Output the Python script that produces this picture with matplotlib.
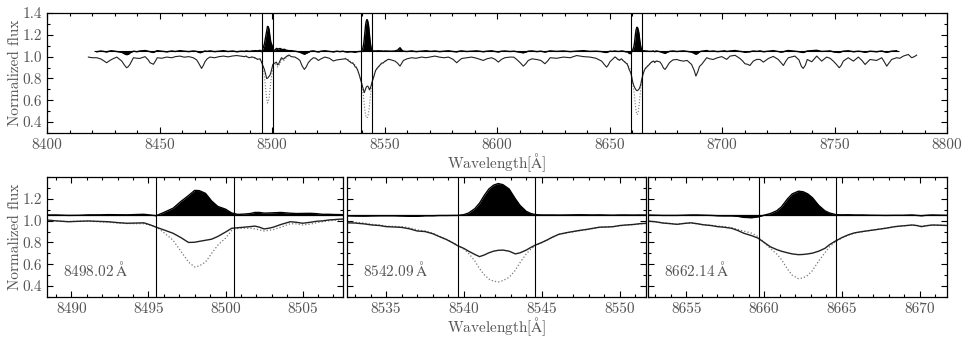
import numpy as np
import matplotlib
matplotlib.use('Agg')
import matplotlib.pyplot as plt
from matplotlib.ticker import MultipleLocator, FixedLocator, FormatStrFormatter

# Ca II triplet line centres and window half width (A)
line_centres = [8498.02, 8542.09, 8662.14]
window_half = 2.5
res_offset = 1.05
res_range = (8421.0, 8778.8)

# observed spectrum outside the three zoom windows (top panel)
wave_top = [8418.4, 8420.0, 8422.1, 8424.0, 8425.0, 8426.5, 8427.6, 8428.7, 8431.0, 8433.2,
            8434.5, 8435.4, 8436.2, 8436.9, 8438.4, 8440.0, 8441.3, 8443.6, 8445.0, 8445.8,
            8447.3, 8448.2, 8449.0, 8451.0, 8453.2, 8455.5, 8457.0, 8459.1, 8461.0, 8463.0,
            8465.0, 8466.5, 8467.3, 8468.2, 8468.7, 8469.5, 8470.2, 8471.2, 8472.4, 8474.5,
            8476.5, 8478.4, 8480.5, 8482.5, 8484.3, 8486.3, 8487.8,
            8508.5, 8510.2, 8511.5, 8512.4, 8513.5, 8514.4, 8515.2, 8516.1, 8517.2, 8518.4,
            8519.5, 8520.6, 8521.8, 8523.5, 8525.5, 8527.3, 8528.8, 8530.2, 8531.5,
            8553.0, 8554.7, 8555.8, 8556.9, 8557.7, 8558.4, 8560.0, 8562.1, 8564.0, 8566.5,
            8568.5, 8570.5, 8572.4, 8574.5, 8576.5, 8578.4, 8580.5, 8582.1, 8583.2, 8584.3,
            8586.5, 8588.7, 8591.0, 8593.9, 8595.5, 8597.6, 8599.2, 8600.6, 8602.0, 8603.5,
            8605.8, 8607.5, 8609.0, 8610.5, 8611.7, 8612.8, 8613.9, 8615.5, 8617.6, 8619.5,
            8621.3, 8622.5, 8623.6, 8626.5, 8629.5, 8632.5, 8635.4, 8638.5, 8641.3, 8644.0,
            8646.5, 8647.8, 8648.7, 8649.5, 8650.2, 8651.3,
            8672.5, 8673.2, 8674.0, 8674.7, 8675.6, 8676.6, 8678.2, 8679.9, 8681.2, 8682.8,
            8684.5, 8686.5, 8687.7, 8688.4, 8689.2, 8690.0, 8691.0, 8693.2, 8694.5, 8696.1,
            8698.0, 8699.9, 8701.2, 8702.1, 8703.6, 8705.8, 8708.0, 8709.2, 8710.2, 8711.3,
            8712.4, 8713.9, 8715.5, 8716.9, 8718.4, 8720.6, 8722.8, 8725.0, 8726.2, 8727.3,
            8728.4, 8729.5, 8732.4, 8734.2, 8735.3, 8736.1, 8737.0, 8737.9, 8739.9, 8742.1,
            8744.3, 8746.5, 8748.0, 8749.5, 8750.8, 8752.1, 8753.0, 8753.9, 8756.1, 8758.4,
            8760.6, 8762.2, 8763.6, 8765.8, 8768.7, 8771.0, 8772.2, 8773.2, 8774.2, 8775.4,
            8777.6, 8779.0, 8780.6, 8782.8, 8784.3, 8785.5, 8786.5]
flux_top = [0.996, 0.990, 0.990, 0.978, 0.965, 0.944, 0.960, 0.974, 0.996, 0.960,
            0.920, 0.898, 0.910, 0.930, 0.990, 0.985, 0.984, 1.000, 0.970, 0.944,
            0.930, 0.960, 0.990, 0.985, 0.996, 0.990, 1.000, 1.005, 0.995, 1.000,
            0.990, 0.970, 0.944, 0.910, 0.892, 0.920, 0.953, 0.980, 0.996, 0.990,
            1.000, 1.005, 0.998, 1.006, 1.010, 1.004, 1.000,
            1.000, 0.996, 0.980, 0.965, 0.910, 0.883, 0.905, 0.944, 0.970, 0.990,
            0.985, 0.965, 0.980, 0.996, 0.985, 0.960, 0.970, 0.974, 0.978,
            0.970, 0.959, 0.940, 0.913, 0.940, 0.965, 0.980, 0.990, 0.985, 0.996,
            0.990, 0.998, 1.005, 0.995, 0.990, 0.996, 0.975, 0.944, 0.965, 0.983,
            0.990, 0.996, 0.985, 0.965, 0.980, 0.990, 0.975, 0.950, 0.975, 0.990,
            0.996, 0.995, 0.970, 0.940, 0.913, 0.935, 0.965, 0.980, 0.974, 0.965,
            0.935, 0.960, 0.990, 0.985, 0.996, 0.990, 1.010, 1.000, 0.996, 0.985,
            0.959, 0.925, 0.904, 0.925, 0.953, 0.975,
            0.950, 0.928, 0.895, 0.883, 0.910, 0.944, 0.970, 0.974, 0.965, 0.959,
            0.965, 0.928, 0.870, 0.822, 0.860, 0.910, 0.930, 0.990, 0.980, 0.974,
            0.990, 1.000, 0.985, 0.975, 1.005, 1.012, 0.983, 0.960, 0.935, 0.930,
            0.919, 0.959, 0.975, 0.974, 0.950, 0.983, 1.002, 0.974, 0.945, 0.919,
            0.960, 0.990, 1.005, 0.970, 0.910, 0.892, 0.920, 0.974, 0.953, 1.005,
            0.959, 0.996, 0.985, 0.959, 0.930, 0.898, 0.920, 0.959, 0.990, 0.959,
            0.996, 0.965, 0.928, 0.974, 0.965, 0.990, 0.950, 0.913, 0.940, 0.974,
            0.990, 0.985, 1.005, 1.020, 0.990, 1.000, 1.014]
resid_top = [1.050, 1.050, 1.045, 1.052, 1.048, 1.043, 1.050, 1.054, 1.047, 1.040,
             1.025, 1.018, 1.022, 1.035, 1.050, 1.045, 1.052, 1.056, 1.050, 1.045,
             1.038, 1.048, 1.055, 1.050, 1.044, 1.052, 1.047, 1.055, 1.050, 1.046,
             1.052, 1.048, 1.040, 1.036, 1.040, 1.047, 1.052, 1.048, 1.053, 1.046,
             1.050, 1.055, 1.047, 1.052, 1.045, 1.050, 1.048,
             1.055, 1.050, 1.045, 1.040, 1.030, 1.022, 1.030, 1.040, 1.050, 1.053,
             1.047, 1.043, 1.050, 1.054, 1.048, 1.044, 1.050, 1.046, 1.050,
             1.050, 1.052, 1.060, 1.082, 1.060, 1.050, 1.047, 1.053, 1.046, 1.050,
             1.054, 1.048, 1.052, 1.046, 1.050, 1.054, 1.047, 1.044, 1.050, 1.053,
             1.047, 1.050, 1.053, 1.045, 1.050, 1.054, 1.047, 1.043, 1.050, 1.052,
             1.047, 1.050, 1.045, 1.040, 1.035, 1.042, 1.050, 1.053, 1.046, 1.050,
             1.042, 1.048, 1.053, 1.048, 1.052, 1.046, 1.050, 1.055, 1.048, 1.050,
             1.046, 1.040, 1.038, 1.045, 1.050, 1.048,
             1.045, 1.040, 1.035, 1.030, 1.040, 1.048, 1.052, 1.047, 1.050, 1.053,
             1.048, 1.042, 1.030, 1.022, 1.030, 1.045, 1.050, 1.056, 1.048, 1.052,
             1.046, 1.050, 1.054, 1.047, 1.052, 1.056, 1.048, 1.045, 1.040, 1.043,
             1.045, 1.052, 1.048, 1.053, 1.045, 1.050, 1.055, 1.047, 1.042, 1.045,
             1.052, 1.056, 1.050, 1.045, 1.040, 1.038, 1.045, 1.052, 1.055, 1.058,
             1.048, 1.050, 1.053, 1.044, 1.040, 1.038, 1.045, 1.050, 1.054, 1.045,
             1.050, 1.046, 1.040, 1.050, 1.045, 1.052, 1.044, 1.040, 1.045, 1.050,
             1.054, 1.050, 1.050, 1.050, 1.050, 1.050, 1.050]

# zoom windows: observed (solid) and template (dotted)
w1 = [8488.4, 8489.0, 8489.8, 8490.5, 8491.1, 8491.8, 8492.4, 8493.0, 8493.6, 8494.2,
      8494.7, 8495.1, 8495.5, 8496.0, 8496.6, 8497.1, 8497.6, 8498.0, 8498.3, 8498.7,
      8499.1, 8499.5, 8500.0, 8500.4, 8500.8, 8501.2, 8501.6, 8501.9, 8502.2, 8502.5,
      8502.8, 8503.1, 8503.6, 8504.2, 8504.6, 8505.0, 8505.5, 8505.9, 8506.3, 8506.7,
      8507.1, 8507.6]
o1 = [1.006, 0.998, 0.990, 0.994, 0.997, 0.993, 0.990, 0.982, 0.976, 0.978,
      0.980, 0.962, 0.940, 0.915, 0.884, 0.845, 0.800, 0.802, 0.810, 0.820,
      0.830, 0.855, 0.895, 0.930, 0.935, 0.940, 0.945, 0.950, 0.940, 0.924,
      0.930, 0.940, 0.965, 0.990, 0.985, 0.976, 0.985, 0.994, 0.998, 1.006,
      1.010, 1.015]
t1 = [1.004, 0.996, 0.992, 0.995, 0.994, 0.990, 0.985, 0.978, 0.973, 0.972,
      0.972, 0.960, 0.945, 0.890, 0.820, 0.720, 0.620, 0.575, 0.585, 0.620,
      0.700, 0.775, 0.840, 0.910, 0.928, 0.930, 0.930, 0.925, 0.915, 0.905,
      0.910, 0.918, 0.940, 0.972, 0.970, 0.960, 0.968, 0.980, 0.990, 0.998,
      1.004, 1.010]

w2 = [8532.4, 8533.0, 8533.6, 8534.1, 8534.6, 8535.0, 8535.5, 8536.0, 8536.5, 8537.0,
      8537.5, 8538.0, 8538.4, 8538.9, 8539.3, 8539.6, 8540.0, 8540.3, 8540.7, 8541.0,
      8541.3, 8541.6, 8541.9, 8542.2, 8542.5, 8542.9, 8543.3, 8543.6, 8544.0, 8544.3,
      8544.6, 8545.0, 8545.3, 8545.7, 8546.1, 8546.6, 8547.0, 8547.4, 8547.9, 8548.3,
      8548.7, 8549.2, 8549.6, 8550.0, 8550.4, 8550.9, 8551.3, 8551.8]
o2 = [0.980, 0.978, 0.970, 0.960, 0.955, 0.945, 0.942, 0.938, 0.925, 0.905,
      0.900, 0.880, 0.855, 0.825, 0.795, 0.770, 0.745, 0.720, 0.690, 0.670,
      0.685, 0.705, 0.720, 0.728, 0.730, 0.720, 0.695, 0.705, 0.730, 0.755,
      0.777, 0.800, 0.820, 0.850, 0.875, 0.890, 0.900, 0.910, 0.920, 0.930,
      0.940, 0.942, 0.945, 0.955, 0.960, 0.965, 0.972, 0.976]
t2 = [0.985, 0.985, 0.978, 0.966, 0.960, 0.950, 0.947, 0.945, 0.935, 0.915,
      0.905, 0.885, 0.858, 0.828, 0.797, 0.772, 0.740, 0.700, 0.630, 0.560,
      0.505, 0.465, 0.445, 0.438, 0.450, 0.480, 0.545, 0.615, 0.695, 0.740,
      0.772, 0.798, 0.818, 0.848, 0.874, 0.888, 0.897, 0.906, 0.917, 0.928,
      0.937, 0.941, 0.945, 0.953, 0.958, 0.964, 0.970, 0.975]

w3 = [8652.4, 8653.0, 8653.5, 8654.0, 8654.4, 8654.9, 8655.3, 8655.7, 8656.1, 8656.6,
      8657.0, 8657.4, 8657.9, 8658.3, 8658.7, 8659.2, 8659.6, 8660.0, 8660.4, 8660.8,
      8661.1, 8661.5, 8661.8, 8662.2, 8662.5, 8662.8, 8663.1, 8663.5, 8663.9, 8664.2,
      8664.6, 8665.0, 8665.4, 8665.8, 8666.3, 8666.8, 8667.3, 8667.8, 8668.4, 8668.9,
      8669.5, 8669.8, 8670.1, 8670.5, 8670.8, 8671.3, 8671.8]
o3 = [0.997, 0.990, 0.978, 0.972, 0.966, 0.975, 0.980, 0.972, 0.962, 0.955,
      0.945, 0.940, 0.930, 0.910, 0.884, 0.862, 0.840, 0.800, 0.760, 0.735,
      0.720, 0.705, 0.695, 0.688, 0.690, 0.695, 0.702, 0.720, 0.746, 0.780,
      0.815, 0.845, 0.870, 0.888, 0.900, 0.910, 0.920, 0.930, 0.945, 0.952,
      0.960, 0.955, 0.945, 0.955, 0.960, 0.958, 0.955]
t3 = [0.995, 0.990, 0.980, 0.974, 0.968, 0.975, 0.978, 0.970, 0.962, 0.957,
      0.950, 0.946, 0.936, 0.920, 0.904, 0.885, 0.855, 0.800, 0.745, 0.695,
      0.645, 0.555, 0.500, 0.468, 0.475, 0.500, 0.542, 0.630, 0.706, 0.760,
      0.810, 0.842, 0.866, 0.886, 0.898, 0.910, 0.921, 0.932, 0.946, 0.953,
      0.958, 0.957, 0.950, 0.955, 0.958, 0.958, 0.956]

zoom_waves = [w1, w2, w3]
zoom_obs = [o1, o2, o3]
zoom_tmpl = [t1, t2, t3]
zoom_labels = ['8498.02', '8542.09', '8662.14']

plt.rcParams['font.family'] = 'serif'
plt.rcParams['font.serif'] = ['cmr10']
plt.rcParams['mathtext.fontset'] = 'cm'
plt.rcParams['axes.formatter.use_mathtext'] = True
plt.rcParams['axes.unicode_minus'] = False
plt.rcParams['font.size'] = 11
txt_col = '#555555'
for k in ['text.color', 'axes.labelcolor', 'xtick.labelcolor', 'ytick.labelcolor']:
    plt.rcParams[k] = txt_col

W, H = 965, 337
fig = plt.figure(figsize=(W / 100, H / 100), dpi=100)

def px_axes(left, top, width, height):
    return fig.add_axes([left / W, 1 - (top + height) / H, width / W, height / H])

def style_ticks(ax):
    ax.tick_params(which='both', direction='in', top=True, right=True, width=0.8)
    ax.tick_params(which='major', length=4)
    ax.tick_params(which='minor', length=2)
    for s in ax.spines.values():
        s.set_linewidth(0.9)

# residual of each window = observed - template + offset
zoom_res = [np.array(o) - np.array(t) + res_offset for o, t in zip(zoom_obs, zoom_tmpl)]

all_w = np.concatenate([wave_top] + [np.array(w) for w in zoom_waves])
all_f = np.concatenate([flux_top] + [np.array(o) for o in zoom_obs])
all_r = np.concatenate([resid_top] + zoom_res)
order = np.argsort(all_w)
all_w, all_f, all_r = all_w[order], all_f[order], all_r[order]

# ---- top panel ----
ax = px_axes(47, 13, 900, 120)
m = (all_w >= res_range[0]) & (all_w <= res_range[1])
ax.fill_between(all_w[m], res_offset, all_r[m], color='k', lw=0)
ax.plot(all_w[m], all_r[m], color='k', lw=1.0)
ax.hlines(res_offset, res_range[0], res_range[1], color='k', lw=0.8)
for w, t in zip(zoom_waves, zoom_tmpl):
    ax.plot(w, t, color='#777777', ls=':', lw=0.8)
ax.plot(all_w, all_f, color='#222222', lw=0.8)
for c in line_centres:
    ax.axvline(c - window_half, color='k', lw=0.8)
    ax.axvline(c + window_half, color='k', lw=0.8)
ax.set_xlim(8400, 8800)
ax.set_ylim(0.3, 1.4)
ax.xaxis.set_major_locator(MultipleLocator(50))
ax.xaxis.set_minor_locator(MultipleLocator(10))
ax.yaxis.set_major_locator(MultipleLocator(0.2))
ax.yaxis.set_minor_locator(MultipleLocator(0.1))
ax.yaxis.set_major_formatter(FormatStrFormatter('%.1f'))
ax.xaxis.set_major_formatter(FormatStrFormatter('%d'))
style_ticks(ax)
ax.set_xlabel('Wavelength[$\\mathrm{\\AA}$]')
ax.xaxis.set_label_coords(0.5, -0.155)
ax.set_ylabel('Normalized flux')
ax.yaxis.set_label_coords(-25 / 900, 0.5)

# ---- zoom panels ----
lefts = [47, 347, 648]
widths = [296, 299, 299]
for i in range(3):
    ax = px_axes(lefts[i], 177, widths[i], 120)
    c = line_centres[i]
    w = np.array(zoom_waves[i])
    ax.fill_between(w, res_offset, zoom_res[i], color='k', lw=0)
    ax.plot(w, zoom_res[i], color='k', lw=1.0)
    ax.axhline(res_offset, color='k', lw=0.9)
    ax.plot(w, zoom_tmpl[i], color='#777777', ls=':', lw=0.9)
    ax.plot(w, zoom_obs[i], color='#222222', lw=1.0)
    ax.axvline(c - window_half, color='k', lw=0.8)
    ax.axvline(c + window_half, color='k', lw=0.8)
    ax.set_xlim(c - 9.6, c + 9.6)
    ax.set_ylim(0.3, 1.4)
    ax.xaxis.set_major_locator(MultipleLocator(5))
    ax.xaxis.set_minor_locator(MultipleLocator(1))
    ax.xaxis.set_major_formatter(FormatStrFormatter('%d'))
    ax.yaxis.set_major_locator(FixedLocator([0.4, 0.6, 0.8, 1.0, 1.2]))
    ax.yaxis.set_minor_locator(MultipleLocator(0.1))
    ax.yaxis.set_major_formatter(FormatStrFormatter('%.1f'))
    style_ticks(ax)
    ax.text(0.054, 0.225, zoom_labels[i] + '$\\,\\mathrm{\\AA}$', transform=ax.transAxes,
            va='center', ha='left')
    if i == 0:
        ax.set_ylabel('Normalized flux')
        ax.yaxis.set_label_coords(-25 / widths[0], 0.5)
    else:
        ax.tick_params(labelleft=False)
    if i == 1:
        ax.set_xlabel('Wavelength[$\\mathrm{\\AA}$]')
        ax.xaxis.set_label_coords(0.5, -0.15)

fig.savefig('out.png', dpi=100)
